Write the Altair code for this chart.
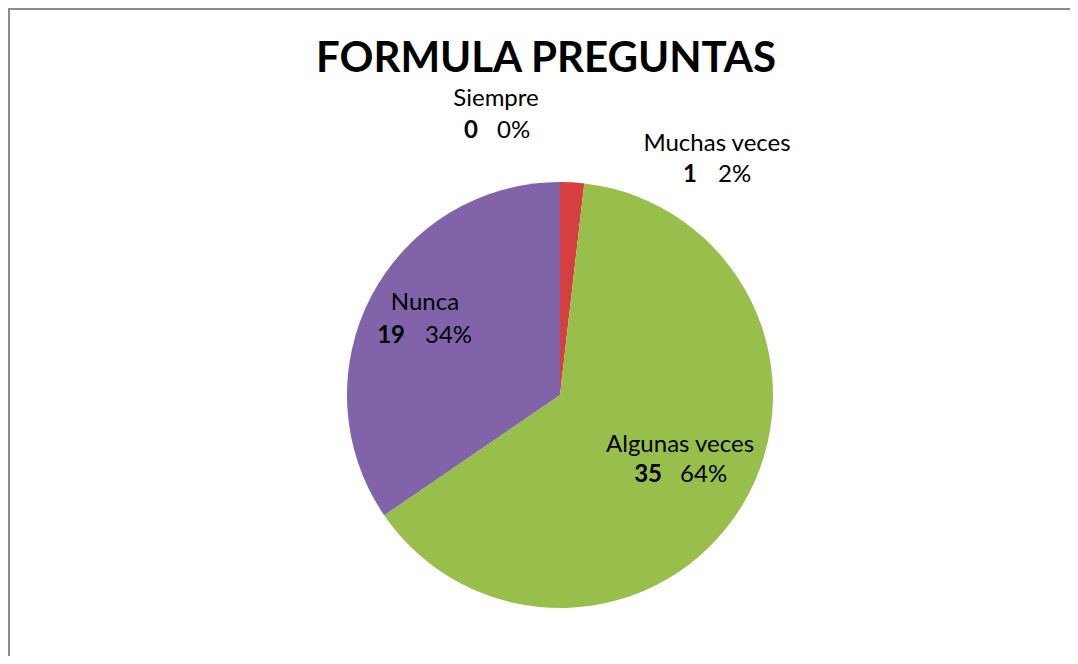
import math
import altair as alt
import pandas as pd

# ---- data ----
categories = ["Siempre", "Muchas veces", "Algunas veces", "Nunca"]
values = [0, 1, 35, 19]
percent_labels = ["0%", "2%", "64%", "34%"]
slice_colors = ["#4f81bd", "#d63f3f", "#98bf4c", "#8063a8"]
title_text = "FORMULA PREGUNTAS"

total = sum(values)
cum = []
run = 0
for v in values:
    run += v
    cum.append(run)
mid = [(c - v / 2) / total for c, v in zip(cum, values)]

df = pd.DataFrame({
    "cat": categories,
    "value": values,
    "pct": percent_labels,
    "num": [str(v) for v in values],
    "order": list(range(len(categories))),
    "mid": mid,
})

W, H = 1062, 648
CX, CY = 552, 387
R = 213
FONT = "Lato"
FS = 24

color_scale = alt.Scale(domain=categories, range=slice_colors)

pie = alt.Chart(df).mark_arc(outerRadius=R, strokeWidth=0).encode(
    theta=alt.Theta("value:Q", stack=True),
    color=alt.Color("cat:N", scale=color_scale, legend=None),
    order=alt.Order("order:Q"),
    x=alt.value(CX),
    y=alt.value(CY),
)

# label placement: (radius, name dx, name dy, num right dx, pct left dx, line2 dy)
placement = {
    "Siempre": (270, -64, -19, -82, -63, 13),
    "Muchas veces": (270, 141.6, 25.6, 121.6, 142.6, 56.6),
    "Nunca": (166, 11.8, -7.5, -8.2, 11.8, 25.5),
    "Algunas veces": (125, 13, -7.6, -5, 13, 22.4),
}

theta_lbl = alt.Theta("mid:Q", stack=False,
                      scale=alt.Scale(domain=[0, 1], range=[0, 2 * math.pi]))

label_layers = []
for cat in categories:
    rad, ndx, ndy, mdx, pdx, ldy = placement[cat]
    sub = alt.Chart(df).transform_filter(alt.datum.cat == cat)
    common = dict(x=alt.value(CX), y=alt.value(CY), theta=theta_lbl)
    label_layers.append(sub.mark_text(radius=rad, dx=ndx, dy=ndy, align="center",
                                      baseline="alphabetic", font=FONT, fontSize=FS,
                                      color="#000000").encode(text="cat:N", **common))
    label_layers.append(sub.mark_text(radius=rad, dx=mdx, dy=ldy, align="right",
                                      baseline="alphabetic", font=FONT, fontSize=FS,
                                      fontWeight="bold", color="#000000").encode(text="num:N", **common))
    label_layers.append(sub.mark_text(radius=rad, dx=pdx, dy=ldy, align="left",
                                      baseline="alphabetic", font=FONT, fontSize=FS,
                                      color="#000000").encode(text="pct:N", **common))
labels = alt.layer(*label_layers)

frame_df = pd.DataFrame({"k": [0]})
top_edge = alt.Chart(frame_df).mark_rule(color="#8a8a8a", strokeWidth=2).encode(
    x=alt.value(0), x2=alt.value(W), y=alt.value(1))
left_edge = alt.Chart(frame_df).mark_rule(color="#8a8a8a", strokeWidth=2).encode(
    x=alt.value(1), y=alt.value(0), y2=alt.value(H))

title_df = pd.DataFrame({"t": [title_text]})
title = alt.Chart(title_df).mark_text(align="center", baseline="alphabetic",
                                      font=FONT, fontSize=42, fontWeight="bold",
                                      color="#000000").encode(
    text="t:N", x=alt.value(538), y=alt.value(64))

chart = alt.layer(top_edge, left_edge, pie, labels, title).resolve_scale(
    theta="independent"
).properties(
    width=W, height=H, padding=0, background="white",
    autosize=alt.AutoSizeParams(type="none"),
).configure_view(stroke=None)

chart.save("out.html", embed_options={"renderer": "svg", "actions": False})
